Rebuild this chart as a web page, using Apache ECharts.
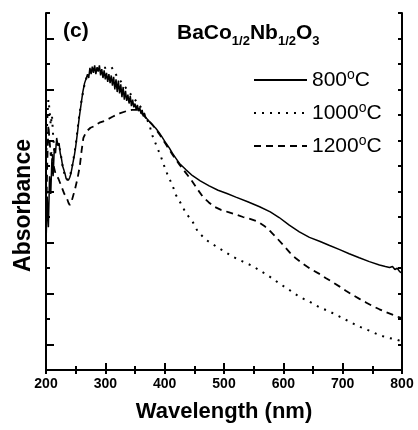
<!DOCTYPE html>
<html>
<head>
<meta charset="utf-8">
<script src="https://cdn.jsdelivr.net/npm/echarts@6/dist/echarts.min.js"></script>
<style>
html,body{margin:0;padding:0;background:#fff;}
#chart{width:418px;height:430px;}
</style>
</head>
<body>
<div id="chart"></div>
<script>
// ---- data ----
var seriesNames = ['800°C', '1000°C', '1200°C'];
var xTicks = [200, 300, 400, 500, 600, 700, 800];

var wl800 = [200,202,204,206,208,210,212,214,216,218,220,222,224,226,228,230,232,234,236,238,240,242,244,246,248,250,253,256,259,262,265,268,
  270,272,274,276,278,280,282,284,286,288,290,292,294,296,298,300,302,304,306,308,310,312,314,316,318,320,322,324,326,328,330,332,334,336,338,340,
  342,344,346,348,350,352,354,356,358,360,362,364,366,368,370,372,374,376,378,380,385,391,396,402,408,413,419,425,436,447,460,475,490,505,520,540,
  560,578,593,610,627,644,661,678,695,711,728,745,762,772,779,784,788,792,796,800];
var abs800 = [4.9,6.8,5.6,7.6,6.9,8.3,7.6,8.7,8.5,9.1,8.8,8.9,8.5,8.3,8.0,7.85,7.7,7.5,7.45,7.45,7.55,7.7,7.95,8.2,8.45,8.75,9.3,9.9,10.4,10.9,11.25,11.45,
  11.6,11.45,11.85,11.6,11.9,11.65,11.95,11.6,11.85,11.7,11.95,11.55,11.8,11.45,11.75,11.4,11.65,11.3,11.6,11.25,11.55,11.15,11.5,11.0,11.4,10.9,11.35,10.85,11.2,10.7,11.1,10.6,10.95,10.55,10.8,10.45,
  10.75,10.35,10.6,10.3,10.45,10.2,10.4,10.15,10.3,10.05,10.2,9.95,10.05,9.9,9.95,9.8,9.8,9.7,9.72,9.6,9.48,9.3,9.12,8.9,8.7,8.5,8.3,8.1,7.85,7.62,7.42,7.22,7.05,6.92,6.78,6.6,
  6.4,6.2,5.98,5.68,5.42,5.2,5.05,4.88,4.72,4.56,4.4,4.25,4.12,4.06,4.02,4.06,3.94,3.99,3.86,3.8];

var wl1000 = [200,202,204,206,208,210,212,214,217,220,224,228,232,236,240,245,250,255,260,265,270,280,290,300,310,320,330,340,350,360,370,375,380,387,394,400,405,
  413,419,427,436,447,456,470,487,501,515,532,548,562,577,593,610,627,644,661,678,695,711,728,745,759,773,790,800];
var abs1000 = [8.0,9.8,10.6,10.2,9.6,10.0,9.2,8.6,8.8,8.9,8.6,8.0,7.6,7.45,7.55,8.1,8.8,9.8,10.6,11.2,11.6,11.8,11.85,11.85,11.9,11.5,11.2,10.9,10.6,10.3,9.85,9.55,9.15,8.75,8.35,7.95,7.65,
  7.25,6.86,6.54,6.15,5.82,5.42,5.1,4.84,4.64,4.44,4.25,4.08,3.88,3.66,3.4,3.14,2.87,2.68,2.46,2.29,2.09,1.9,1.7,1.54,1.4,1.28,1.2,1.12];

var wl1200 = [200,202,204,206,208,210,213,216,221,226,231,235,238,240,243,246,249,253,257,260,263,268,275,280,290,300,312,324,335,345,355,362,370,380,391,402,413,425,435,445,
  455,464,474,484,495,506,520,532,545,557,568,579,590,602,611,621,634,647,660,672,684,695,706,717,729,740,751,762,773,785,795,800];
var abs1200 = [5.5,8.0,9.6,9.0,8.4,8.6,8.0,7.7,7.5,7.2,6.9,6.75,6.55,6.47,6.6,6.85,7.1,7.5,8.0,8.6,9.1,9.35,9.5,9.55,9.7,9.78,9.93,10.06,10.15,10.2,10.2,10.05,9.85,9.6,9.25,8.85,8.45,8.05,7.75,7.45,
  7.1,6.8,6.58,6.4,6.28,6.2,6.1,6.0,5.92,5.82,5.65,5.42,5.15,4.84,4.6,4.38,4.15,3.95,3.78,3.6,3.43,3.27,3.1,2.94,2.78,2.64,2.5,2.38,2.27,2.16,2.07,2.03];

function pairs(xs, ys) { return xs.map(function (x, i) { return [x, ys[i]]; }); }

var FONT = 'Liberation Sans, Arial, sans-serif';
var chart = echarts.init(document.getElementById('chart'), null, {renderer: 'canvas'});

var tickStyle = {color: '#000', width: 2};
var option = {
  animation: false,
  backgroundColor: '#fff',
  grid: {left: 46, right: 16, top: 13, bottom: 60, containLabel: false},
  legend: {
    data: seriesNames,
    orient: 'vertical',
    left: 248,
    top: 63,
    itemWidth: 53,
    itemHeight: 14,
    itemGap: 9,
    itemStyle: {opacity: 0, color: 'rgba(0,0,0,0)', borderWidth: 0},
    textStyle: {
      color: '#000', fontFamily: FONT, fontSize: 21, lineHeight: 24,
      rich: {sup: {fontSize: 14, lineHeight: 14, verticalAlign: 'top', fontFamily: FONT, color: '#000'}}
    },
    formatter: function (n) { return n.replace('°', '{sup|o}'); }
  },
  xAxis: [{
    type: 'value', min: 200, max: 800, interval: 100, position: 'bottom',
    axisLine: {lineStyle: {color: '#000', width: 2}},
    axisTick: {inside: true, length: 7, lineStyle: tickStyle},
    minorTick: {show: true, splitNumber: 2, length: 4, lineStyle: tickStyle},
    splitLine: {show: false},
    axisLabel: {color: '#000', fontFamily: FONT, fontWeight: 'bold', fontSize: 14, margin: 7,
      customValues: xTicks},
    name: 'Wavelength (nm)', nameLocation: 'middle', nameGap: 31,
    nameTextStyle: {color: '#000', fontFamily: FONT, fontWeight: 'bold', fontSize: 22}
  }, {
    type: 'value', min: 200, max: 800, interval: 50, position: 'top',
    axisLine: {lineStyle: {color: '#000', width: 2}},
    axisTick: {inside: true, length: 4, lineStyle: tickStyle},
    axisLabel: {show: false}, splitLine: {show: false}
  }],
  yAxis: [{
    type: 'value', min: 0, max: 14, interval: 1, position: 'left',
    axisLine: {show: true, lineStyle: {color: '#000', width: 2}},
    axisTick: {show: true, inside: true, length: 4, lineStyle: tickStyle},
    axisLabel: {show: false}, splitLine: {show: false},
    name: 'Absorbance', nameLocation: 'middle', nameGap: 11, nameRotate: 90,
    nameTextStyle: {color: '#000', fontFamily: FONT, fontWeight: 'bold', fontSize: 23, padding: [0, 28, 0, 0]}
  }, {
    type: 'value', min: 0, max: 14, interval: 1, position: 'left',
    axisLine: {show: false},
    axisTick: {show: true, inside: true, length: 8, lineStyle: tickStyle, customValues: [1, 3, 5, 7, 9, 11, 13]},
    axisLabel: {show: false}, splitLine: {show: false}
  }, {
    type: 'value', min: 0, max: 14, interval: 1, position: 'right',
    axisLine: {show: true, lineStyle: {color: '#000', width: 2}},
    axisTick: {show: true, inside: true, length: 4, lineStyle: tickStyle},
    axisLabel: {show: false}, splitLine: {show: false}
  }],
  series: [{
    name: seriesNames[0], type: 'line', xAxisIndex: 0, yAxisIndex: 0,
    symbol: 'none', showSymbol: false,
    lineStyle: {color: '#000', width: 1.5, type: 'solid'},
    itemStyle: {color: '#000'},
    data: pairs(wl800, abs800)
  }, {
    name: seriesNames[1], type: 'line', xAxisIndex: 0, yAxisIndex: 0,
    symbol: 'none', showSymbol: false,
    lineStyle: {color: '#000', width: 2, type: [2, 6]},
    itemStyle: {color: '#000'},
    data: pairs(wl1000, abs1000)
  }, {
    name: seriesNames[2], type: 'line', xAxisIndex: 0, yAxisIndex: 0,
    symbol: 'none', showSymbol: false,
    lineStyle: {color: '#000', width: 1.8, type: [7, 5]},
    itemStyle: {color: '#000'},
    data: pairs(wl1200, abs1200)
  }],
  graphic: [{
    type: 'text', left: 63, top: 21,
    style: {text: '(c)', fill: '#000', font: 'bold 21px ' + FONT}
  }, {
    type: 'text', left: 177, top: 18,
    style: {
      text: 'BaCo{s|1/2}Nb{s|1/2}O{s|3}',
      fill: '#000', font: 'bold 21px ' + FONT, lineHeight: 30,
      rich: {s: {fontSize: 13, fontWeight: 'bold', fontFamily: FONT, lineHeight: 12, verticalAlign: 'bottom', fill: '#000'}}
    }
  }]
};
chart.setOption(option);
</script>
</body>
</html>
